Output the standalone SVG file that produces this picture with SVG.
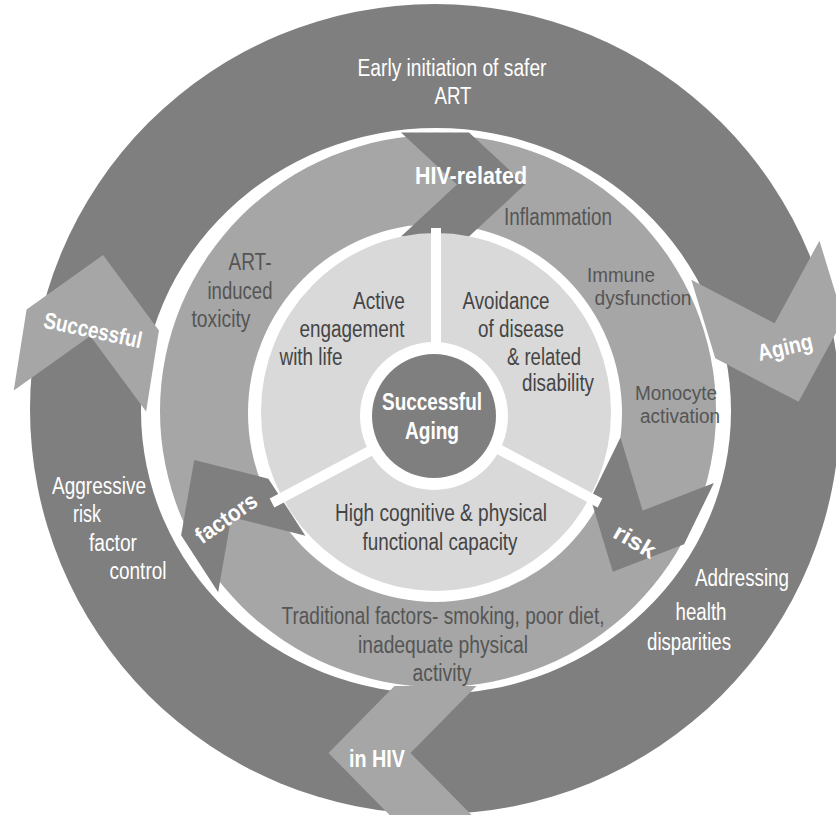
<svg xmlns="http://www.w3.org/2000/svg" width="836" height="815" viewBox="0 0 836 815">
<style>
text{font-family:"Liberation Sans",Arial,sans-serif;font-size:23px;text-anchor:middle}
.w{fill:#ffffff}
.b{fill:#ffffff;font-weight:bold}
.m{fill:#555555}
.s{font-size:20px}
.l{fill:#454545}
.dark{fill:#7f7f7f}
.med{fill:#a6a6a6}
.sep{stroke:#ffffff;stroke-width:10}
</style>
<defs>
<polygon id="chevO" points="0,-74 67,-8 67,74 0,8 -67,74 -67,-8"/>
<polygon id="chevI" points="0,-62 52,-6 52,62 0,6 -52,62 -52,-6"/>
</defs>
<rect width="836" height="815" fill="#ffffff"/>
<g id="outer-ring">
<ellipse class="dark" cx="435" cy="409" rx="405" ry="405"/>
<ellipse fill="#ffffff" cx="436" cy="411" rx="295" ry="283"/>
<text class="w" x="452" y="76" textLength="189" lengthAdjust="spacingAndGlyphs">Early initiation of safer</text>
<text class="w" x="453" y="104" textLength="37" lengthAdjust="spacingAndGlyphs">ART</text>
<text class="w" x="99" y="494" textLength="94" lengthAdjust="spacingAndGlyphs">Aggressive</text>
<text class="w" x="87" y="522" textLength="28" lengthAdjust="spacingAndGlyphs">risk</text>
<text class="w" x="113" y="551" textLength="48" lengthAdjust="spacingAndGlyphs">factor</text>
<text class="w" x="138" y="579" textLength="57" lengthAdjust="spacingAndGlyphs">control</text>
<text class="w" x="742" y="586" textLength="94" lengthAdjust="spacingAndGlyphs">Addressing</text>
<text class="w" x="701" y="620" textLength="51" lengthAdjust="spacingAndGlyphs">health</text>
<text class="w" x="689" y="650" textLength="84" lengthAdjust="spacingAndGlyphs">disparities</text>
</g>
<g id="middle-ring">
<ellipse class="med" cx="438" cy="411" rx="278" ry="276"/>
<ellipse fill="#ffffff" cx="435" cy="413" rx="187" ry="189"/>
<text class="m" x="250" y="270" textLength="43" lengthAdjust="spacingAndGlyphs">ART-</text>
<text class="m" x="240" y="299" textLength="65" lengthAdjust="spacingAndGlyphs">induced</text>
<text class="m" x="221" y="327" textLength="59" lengthAdjust="spacingAndGlyphs">toxicity</text>
<text class="m" x="558" y="225" textLength="108" lengthAdjust="spacingAndGlyphs">Inflammation</text>
<text class="m s" x="621" y="282" textLength="68" lengthAdjust="spacingAndGlyphs">Immune</text>
<text class="m s" x="643" y="305" textLength="97" lengthAdjust="spacingAndGlyphs">dysfunction</text>
<text class="m s" x="676" y="400" textLength="82" lengthAdjust="spacingAndGlyphs">Monocyte</text>
<text class="m s" x="680" y="423" textLength="80" lengthAdjust="spacingAndGlyphs">activation</text>
<text class="m" x="443" y="624" textLength="323" lengthAdjust="spacingAndGlyphs">Traditional factors- smoking, poor diet,</text>
<text class="m" x="443" y="653" textLength="170" lengthAdjust="spacingAndGlyphs">inadequate physical</text>
<text class="m" x="442" y="681" textLength="59" lengthAdjust="spacingAndGlyphs">activity</text>
</g>
<g id="chevron-successful">
<use href="#chevO" class="med" transform="translate(91.5,328) rotate(9)"/>
<text class="b" transform="translate(93,330) rotate(12)" y="8" textLength="100" lengthAdjust="spacingAndGlyphs">Successful</text>
</g>
<g id="chevron-aging">
<use href="#chevO" class="med" transform="translate(777,331) rotate(163)"/>
<text class="b" transform="translate(785,347) rotate(-13)" y="8" textLength="56" lengthAdjust="spacingAndGlyphs">Aging</text>
</g>
<g id="chevron-inhiv">
<use href="#chevO" class="med" transform="translate(402.5,753) rotate(-90)"/>
<text class="b" x="377" y="767" textLength="56" lengthAdjust="spacingAndGlyphs">in HIV</text>
</g>
<g id="chevron-hivrelated">
<use href="#chevI" class="dark" transform="translate(463,184.5) rotate(90)"/>
<text class="b" x="471" y="184" textLength="112" lengthAdjust="spacingAndGlyphs">HIV-related</text>
</g>
<g id="chevron-risk">
<use href="#chevI" class="dark" transform="translate(640,516) rotate(206)"/>
<text class="b" transform="translate(635,541) rotate(30)" y="8" textLength="45" lengthAdjust="spacingAndGlyphs">risk</text>
</g>
<g id="chevron-factors">
<use href="#chevI" class="dark" transform="translate(228,512) rotate(-33)"/>
<text class="b" transform="translate(226,518) rotate(-35)" y="8" textLength="70" lengthAdjust="spacingAndGlyphs">factors</text>
</g>
<g id="inner-disc">
<ellipse fill="#d9d9d9" cx="436" cy="412" rx="175" ry="179"/>
<g id="connectors">
<line class="sep" x1="436" y1="416" x2="436" y2="228"/>
<line class="sep" x1="436" y1="416" x2="272" y2="503"/>
<line class="sep" x1="436" y1="416" x2="600" y2="503"/>
</g>
<text class="l" x="379" y="309" textLength="52" lengthAdjust="spacingAndGlyphs">Active</text>
<text class="l" x="352" y="337" textLength="105" lengthAdjust="spacingAndGlyphs">engagement</text>
<text class="l" x="311" y="365" textLength="63" lengthAdjust="spacingAndGlyphs">with life</text>
<text class="l" x="506" y="309" textLength="87" lengthAdjust="spacingAndGlyphs">Avoidance</text>
<text class="l" x="521" y="337" textLength="86" lengthAdjust="spacingAndGlyphs">of disease</text>
<text class="l" x="544" y="365" textLength="74" lengthAdjust="spacingAndGlyphs">&amp; related</text>
<text class="l" x="558" y="391" textLength="72" lengthAdjust="spacingAndGlyphs">disability</text>
<text class="l" x="441" y="521" textLength="212" lengthAdjust="spacingAndGlyphs">High cognitive &amp; physical</text>
<text class="l" x="440" y="550" textLength="155" lengthAdjust="spacingAndGlyphs">functional capacity</text>
</g>
<g id="center">
<circle fill="#ffffff" cx="434" cy="416" r="74"/>
<circle class="dark" cx="434" cy="416" r="62"/>
<text class="b" x="432" y="410" textLength="100" lengthAdjust="spacingAndGlyphs">Successful</text>
<text class="b" x="432" y="439" textLength="54" lengthAdjust="spacingAndGlyphs">Aging</text>
</g>
</svg>
